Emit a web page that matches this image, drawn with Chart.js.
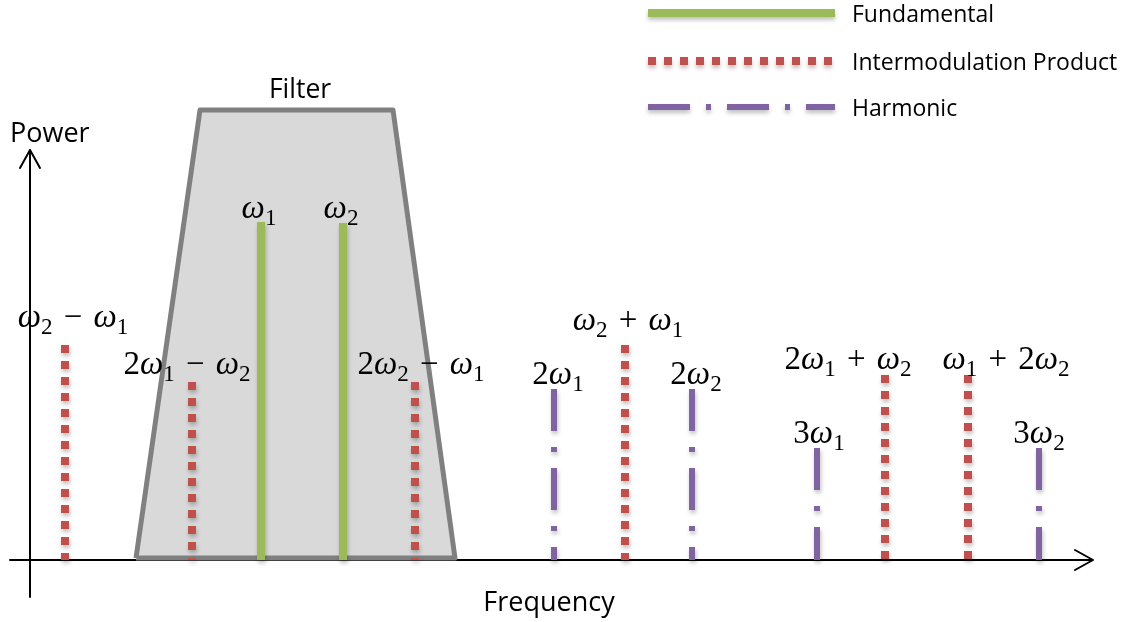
<!DOCTYPE html>
<html>
<head>
<meta charset="utf-8">
<script src="https://cdn.jsdelivr.net/npm/chart.js@4.4.1/dist/chart.umd.min.js"></script>
<style>
  html, body { margin: 0; padding: 0; background: #fff; }
  #wrap { width: 1133px; height: 622px; }
</style>
</head>
<body>
<div id="wrap"><canvas id="chart" width="1133" height="622"></canvas></div>
<script>
// frequency = distance right of the power axis, power = height above the frequency axis
const fundFreq = [231, 313];
const fundPower = [338, 337];
const fundLabels = ['ω_1', 'ω_2'];

const imdFreq = [35, 162, 385, 595, 855, 938];
const imdPower = [215, 178, 178, 215, 185, 185];
const imdLabels = ['ω_2 − ω_1', '2ω_1 − ω_2', '2ω_2 − ω_1', 'ω_2 + ω_1', '2ω_1 + ω_2', 'ω_1 + 2ω_2'];

const harmFreq = [524, 662, 787, 1009];
const harmPower = [171, 171, 112, 112];
const harmLabels = ['2ω_1', '2ω_2', '3ω_1', '3ω_2'];

// filter pass band outline (corners)
const filterFreq = [106, 170, 363, 425, 106];
const filterPower = [2, 450, 450, 2, 2];

const legendLabels = ['Fundamental', 'Intermodulation Product', 'Harmonic'];

const GREEN = '#9BBB59';
const RED = '#C0504D';
const PURPLE = '#8064A2';

const styles = {
    fund: { color: GREEN, width: 8, dash: [] },
    imd: { color: RED, width: 8, dash: [8, 8] },
    harm: { color: PURPLE, width: 6, dash: [42, 16, 5, 16] }
};

// where each formula sits relative to the top of its line
const labelNudge = {
    'ω_2 − ω_1': [8, 18], '2ω_1 − ω_2': [-5, 8], '2ω_2 − ω_1': [6, 8],
    'ω_2 + ω_1': [3, 15], '2ω_1 + ω_2': [-37, 6], 'ω_1 + 2ω_2': [38, 6],
    'ω_1': [-2, 4], 'ω_2': [-2, 5],
    '2ω_1': [4, 5], '2ω_2': [4, 5], '3ω_1': [2, 5], '3ω_2': [0, 5]
};

function spectralLines(freqs, powers, labels, style) {
    return freqs.map((f, i) => ({
        label: labels[i],
        data: [{ x: f, y: powers[i] }, { x: f, y: 0 }],
        showLine: true,
        borderColor: style.color,
        borderWidth: style.width,
        borderDash: style.dash,
        borderCapStyle: 'butt',
        pointRadius: 0,
        fill: false,
        shadow: true,
        order: 1
    }));
}

const datasets = [
    {
        label: 'Filter',
        data: filterFreq.map((f, i) => ({ x: f, y: filterPower[i] })),
        showLine: true,
        borderColor: '#808080',
        backgroundColor: '#D9D9D9',
        borderWidth: 5,
        borderJoinStyle: 'round',
        pointRadius: 0,
        fill: 'shape',
        order: 10
    },
    ...spectralLines(imdFreq, imdPower, imdLabels, styles.imd),
    ...spectralLines(harmFreq, harmPower, harmLabels, styles.harm),
    ...spectralLines(fundFreq, fundPower, fundLabels, styles.fund)
];

const MATH_FONT = '"Liberation Serif", "DejaVu Serif", serif';
const TEXT_FONT = '"Open Sans", Lato, sans-serif';

function drawMath(ctx, text, cx, baseline, size) {
    const parts = [];
    for (let i = 0; i < text.length; i++) {
        const ch = text[i];
        if (ch === ' ') continue;
        if (ch === '_') { parts.push({ t: text[++i], sub: true }); continue; }
        parts.push({ t: ch, op: ch === '−' || ch === '+', italic: ch === 'ω' });
    }
    const gap = size * 0.34;
    parts.forEach(p => {
        const s = p.sub ? size * 0.7 : size;
        p.font = (p.italic ? 'italic ' : '') + s + 'px ' + MATH_FONT;
        ctx.font = p.font;
        p.w = ctx.measureText(p.t).width + (p.op ? gap * 2 : 0);
    });
    const total = parts.reduce((a, p) => a + p.w, 0);
    let x = cx - total / 2;
    ctx.fillStyle = '#000';
    ctx.textAlign = 'left';
    ctx.textBaseline = 'alphabetic';
    parts.forEach(p => {
        ctx.font = p.font;
        ctx.fillText(p.t, x + (p.op ? gap : 0), baseline + (p.sub ? size * 0.2 : 0));
        x += p.w;
    });
}

function strokeSample(ctx, style, x0, x1, y) {
    ctx.save();
    ctx.shadowColor = 'rgba(0,0,0,0.25)';
    ctx.shadowBlur = 4;
    ctx.shadowOffsetY = 3;
    ctx.strokeStyle = style.color;
    ctx.lineWidth = style.width;
    ctx.setLineDash(style.dash);
    ctx.lineCap = 'butt';
    ctx.beginPath();
    ctx.moveTo(x0, y);
    ctx.lineTo(x1, y);
    ctx.stroke();
    ctx.restore();
}

const decor = {
    id: 'decor',
    beforeDatasetsDraw(chart) {
        const { ctx, scales: { x, y } } = chart;
        const ox = x.getPixelForValue(0);
        const oy = y.getPixelForValue(0);
        ctx.save();
        ctx.strokeStyle = '#000';
        ctx.lineWidth = 2;
        ctx.lineCap = 'round';
        ctx.lineJoin = 'round';
        ctx.beginPath();
        ctx.moveTo(10, oy); ctx.lineTo(1093, oy);
        ctx.moveTo(1075, oy - 10); ctx.lineTo(1093, oy); ctx.lineTo(1075, oy + 10);
        ctx.moveTo(ox, 597); ctx.lineTo(ox, 150);
        ctx.moveTo(ox - 10, 168); ctx.lineTo(ox, 150); ctx.lineTo(ox + 10, 168);
        ctx.stroke();
        ctx.restore();
    },
    beforeDatasetDraw(chart, args) {
        const ctx = chart.ctx;
        ctx.save();
        if (args.meta._dataset.shadow) {
            ctx.shadowColor = 'rgba(0,0,0,0.25)';
            ctx.shadowBlur = 4;
            ctx.shadowOffsetX = 1;
            ctx.shadowOffsetY = 3;
        }
    },
    afterDatasetDraw(chart) {
        chart.ctx.restore();
    },
    afterDatasetsDraw(chart) {
        const { ctx, scales: { x, y } } = chart;
        ctx.save();
        // formulas above the lines
        chart.data.datasets.forEach(ds => {
            const nudge = labelNudge[ds.label];
            if (!nudge) return;
            const top = ds.data[0];
            drawMath(ctx, ds.label, x.getPixelForValue(top.x) + nudge[0],
                y.getPixelForValue(top.y) - nudge[1], 33);
        });

        ctx.fillStyle = '#000';
        ctx.textBaseline = 'alphabetic';
        ctx.font = '27px ' + TEXT_FONT;
        ctx.textAlign = 'left';
        ctx.fillText('Power', 10, 142);
        ctx.textAlign = 'center';
        ctx.fillText('Frequency', 549, 611);
        ctx.font = '26.5px ' + TEXT_FONT;
        ctx.fillText('Filter', 300, 98);

        // legend
        const samples = [styles.fund, styles.imd, styles.harm];
        const rows = [13, 61, 107];
        ctx.font = '23px ' + TEXT_FONT;
        ctx.textAlign = 'left';
        legendLabels.forEach((name, i) => {
            strokeSample(ctx, samples[i], 648, 835, rows[i]);
            ctx.fillStyle = '#000';
            ctx.fillText(name, 852, rows[i] + 9);
        });
        ctx.restore();
    }
};

new Chart(document.getElementById('chart'), {
    type: 'scatter',
    data: { datasets },
    options: {
        responsive: false,
        animation: false,
        layout: { padding: 0 },
        elements: { line: { tension: 0 } },
        plugins: {
            legend: { display: false },
            tooltip: { enabled: false }
        },
        scales: {
            x: { type: 'linear', min: -30, max: 1103, display: false },
            y: { type: 'linear', min: -62, max: 560, display: false }
        }
    },
    plugins: [decor]
});
</script>
</body>
</html>
